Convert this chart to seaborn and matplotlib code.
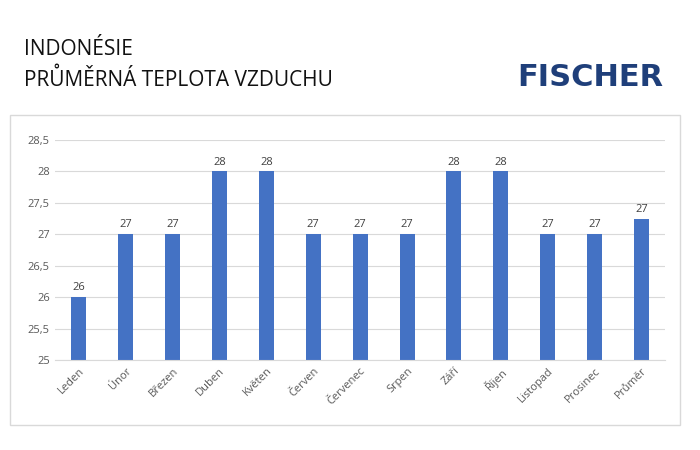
import matplotlib
matplotlib.use("Agg")
import matplotlib.pyplot as plt
import seaborn as sns
import pandas as pd
from matplotlib.patches import Rectangle

# data
mesice = ["Leden", "Únor", "Březen", "Duben", "Květen", "Červen", "Červenec",
          "Srpen", "Září", "Říjen", "Listopad", "Prosinec", "Průměr"]
teploty = [26, 27, 27, 28, 28, 27, 27, 27, 28, 28, 27, 27, 27.25]
popisky = ["26", "27", "27", "28", "28", "27", "27", "27", "28", "28", "27", "27", "27"]
y_ticks = [25, 25.5, 26, 26.5, 27, 27.5, 28, 28.5]

df = pd.DataFrame({"Měsíc": mesice, "Teplota": teploty})

plt.rcParams["font.family"] = "Open Sans"
fig = plt.figure(figsize=(7, 4.5), dpi=100)
fig.patch.set_facecolor("white")

# rámeček grafu
fig.patches.append(Rectangle((0.014, 0.056), 0.957, 0.689, transform=fig.transFigure,
                             fill=False, edgecolor="#d9d9d9", linewidth=1))

ax = fig.add_axes([0.079, 0.2, 0.871, 0.489])
sns.barplot(data=df, x="Měsíc", y="Teplota", color="#4472c4", width=0.32, ax=ax,
            saturation=1)

ax.set_ylim(25, 28.5)
ax.set_yticks(y_ticks)
ax.set_yticklabels([str(t).replace(".", ",").removesuffix(",0") for t in y_ticks],
                   fontsize=8, color="#595959")
ax.set_xticks(range(len(mesice)))
ax.set_xticklabels(mesice, rotation=45, ha="right", rotation_mode="anchor",
                   fontsize=8, color="#595959")
ax.set_xlabel("")
ax.set_ylabel("")
ax.grid(axis="y", color="#d9d9d9", linewidth=0.8)
ax.set_axisbelow(True)
for s in ["top", "right", "left"]:
    ax.spines[s].set_visible(False)
ax.spines["bottom"].set_color("#d9d9d9")
ax.tick_params(length=0, pad=4)

for i, (v, t) in enumerate(zip(teploty, popisky)):
    ax.text(i, v + 0.06, t, ha="center", va="bottom", fontsize=8, color="#404040")

fig.text(0.034, 0.878, "INDONÉSIE", fontsize=15, color="#111111")
fig.text(0.034, 0.808, "PRŮMĚRNÁ TEPLOTA VZDUCHU", fontsize=15, color="#111111")
fig.text(0.947, 0.81, "FISCHER", fontsize=22, fontweight="bold", color="#1f3f7a",
         ha="right", family="DejaVu Sans")

fig.savefig("out.png", dpi=100)
